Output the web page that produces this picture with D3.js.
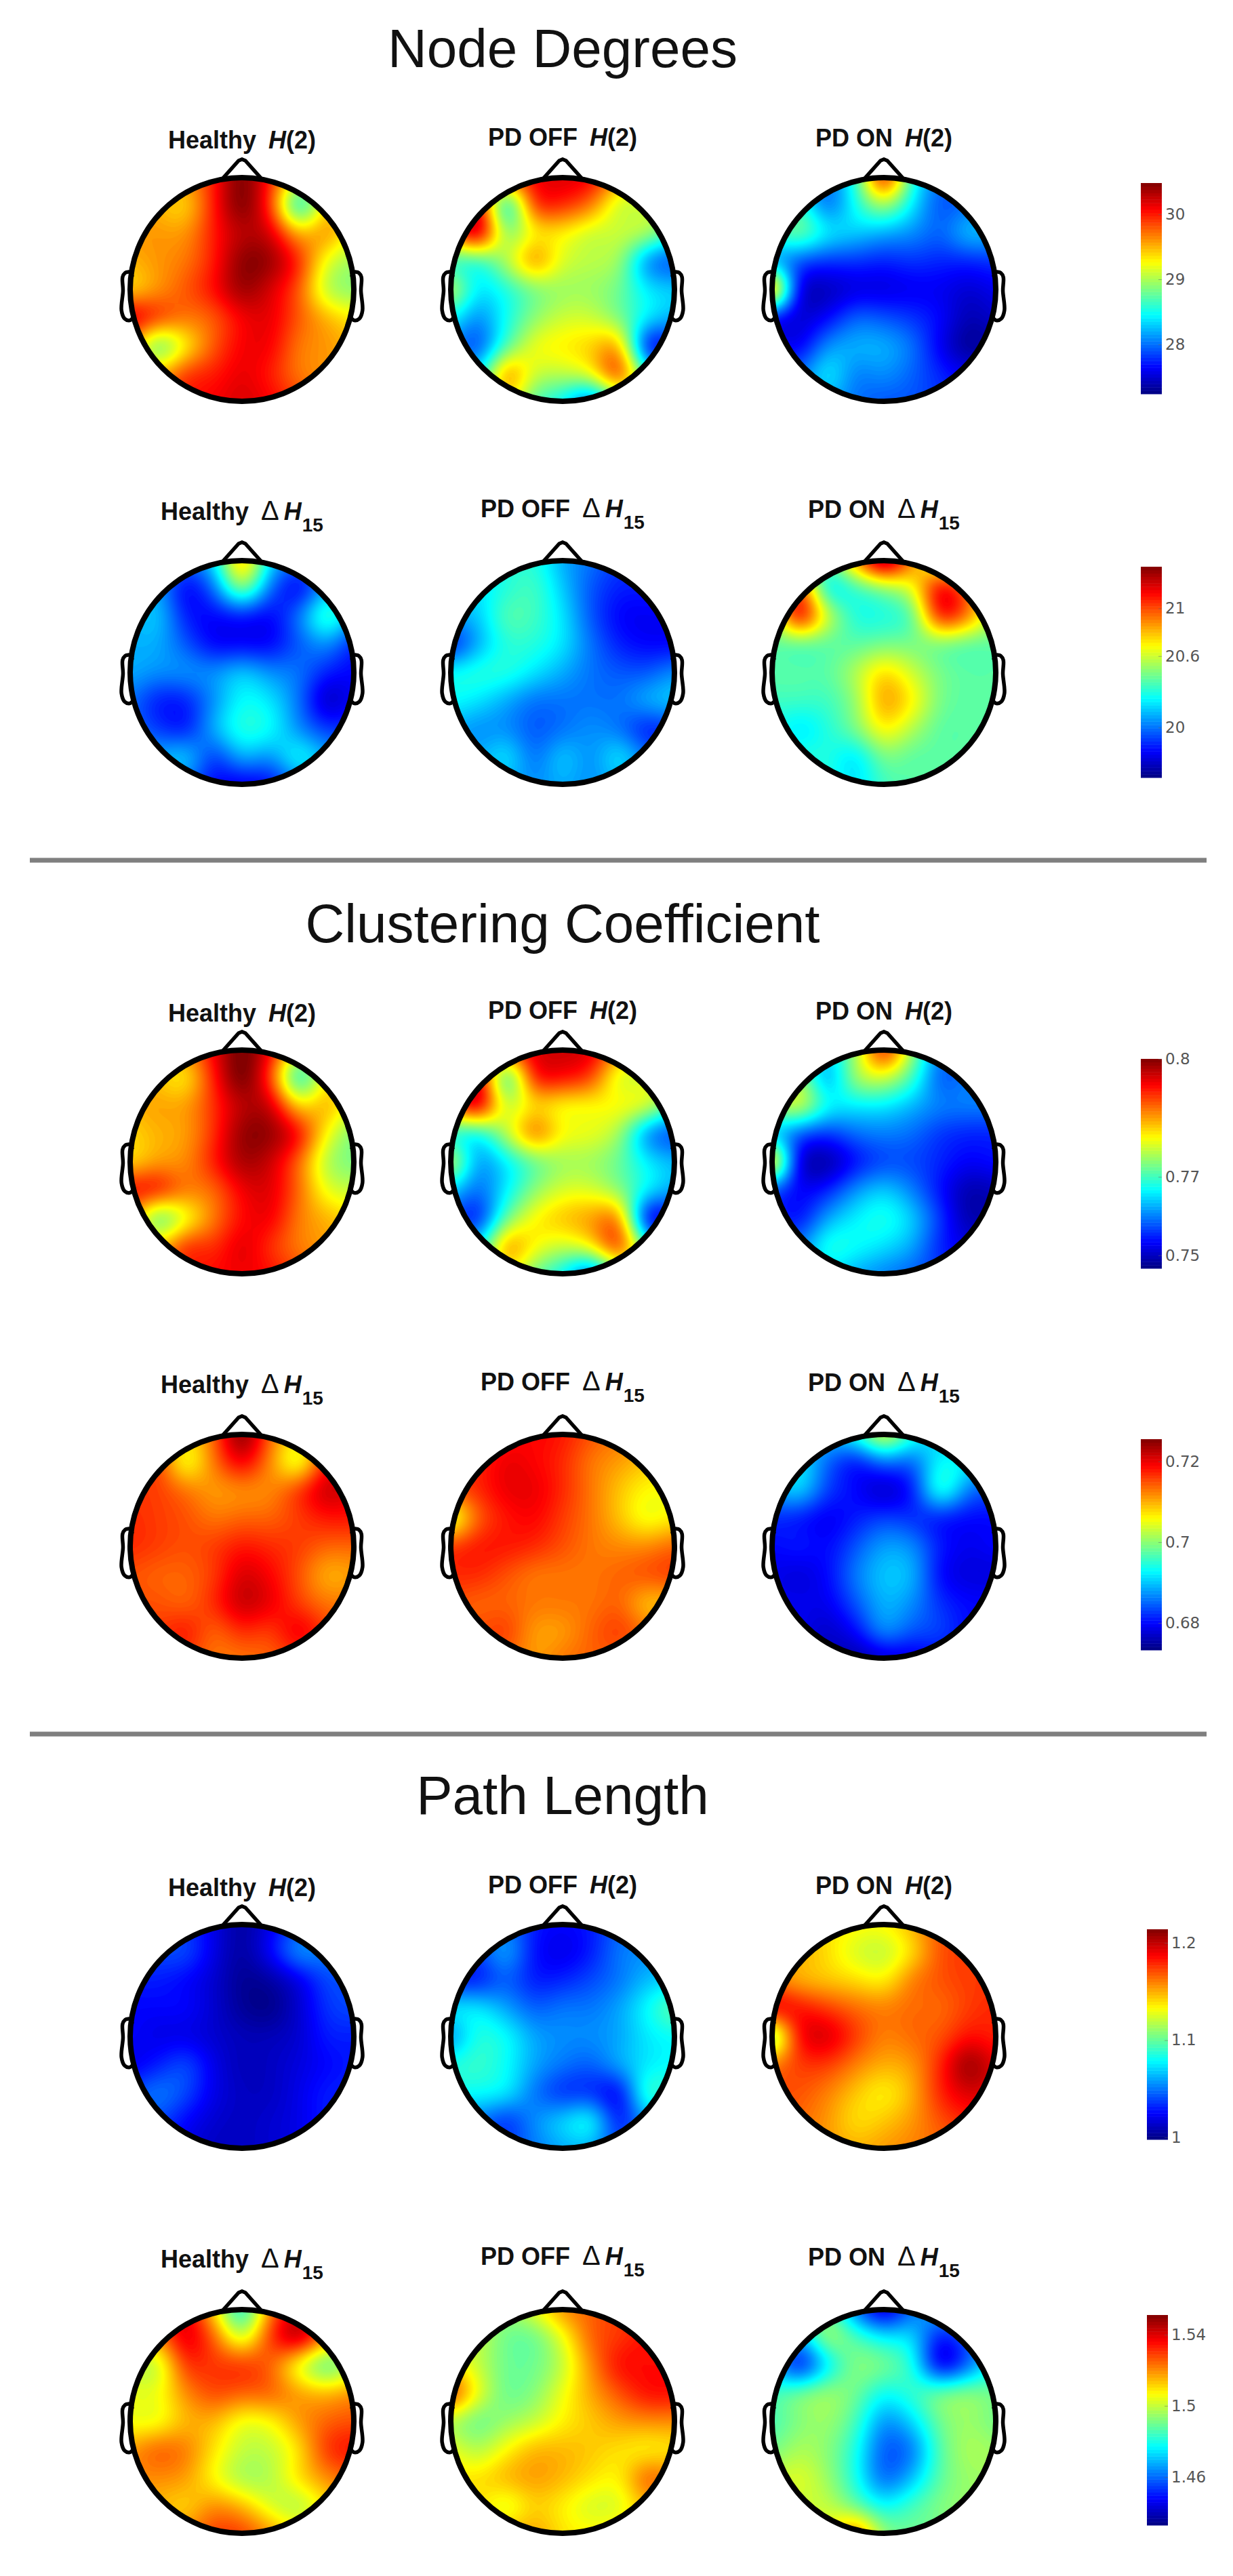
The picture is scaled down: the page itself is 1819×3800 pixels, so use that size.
<!DOCTYPE html>
<html>
<head>
<meta charset="utf-8">
<title>Node Degrees, Clustering Coefficient, Path Length</title>
<script src="https://cdn.jsdelivr.net/npm/d3@7"></script>
<style>
  body { margin: 0; background: #fff; }
  text { font-family: "Liberation Sans", Arial, sans-serif; }
</style>
</head>
<body>
<div id="chart"></div>
<script>
// section names, one title per block of two rows
var sectionTitles = ['Node Degrees', 'Clustering Coefficient', 'Path Length'];
var groupLabels = ['Healthy', 'PD OFF', 'PD ON'];

// colorbar ranges and ticks, one per row of heads
var barDomains = [[27.24, 30.48], [19.58, 21.35], [0.7467, 0.80], [0.6733, 0.7255], [0.998, 1.214], [1.433, 1.551]];
var barTicks = [[28, 29, 30], [20, 20.6, 21], [0.75, 0.77, 0.8], [0.68, 0.7, 0.72], [1, 1.1, 1.2], [1.46, 1.5, 1.54]];

// scalp values, 9x9 grid, nose at the top
var nodeH2Healthy = [
[29.6,29.6,29.6,30.0,30.5,30.0,29.3,29.3,29.3],
[29.6,29.5,29.4,30.0,30.5,29.9,28.5,29.4,29.4],
[29.6,29.6,29.6,30.0,30.3,30.2,29.5,29.6,29.2],
[29.5,29.6,29.7,30.0,30.45,30.4,29.95,29.2,28.95],
[29.4,29.6,29.8,30.05,30.4,30.2,29.8,29.05,28.9],
[30.2,29.9,29.7,29.8,30.1,30.15,29.8,29.5,29.3],
[29.6,28.8,29.3,29.8,30.1,30.1,29.7,29.6,29.5],
[29.6,29.5,29.9,30.0,30.15,30.0,29.7,29.6,29.5],
[29.8,29.8,30.0,30.1,30.2,30.1,29.9,29.7,29.6]];
var nodeH2Off = [
[29.5,29.5,29.8,30.1,30.2,30.1,29.6,29.2,29.1],
[30.0,30.1,28.5,29.9,29.95,29.7,29.1,29.1,29.0],
[29.7,30.3,28.9,29.3,29.3,29.1,29.1,29.0,28.6],
[28.6,28.6,29.0,29.6,29.15,29.05,28.95,28.1,27.9],
[29.1,28.4,28.55,28.85,28.95,28.95,28.8,28.4,28.3],
[28.5,28.1,28.5,28.9,29.1,29.1,28.85,28.4,28.2],
[28.1,27.9,28.7,29.2,29.3,29.4,29.5,27.7,27.8],
[28.3,28.4,29.6,29.1,29.05,29.2,29.85,28.6,28.0],
[28.5,28.7,29.3,28.7,28.4,27.9,28.7,29.0,28.5]];
var nodeH2On = [
[28,28,28,28.6,30.1,28.6,28,28,28],
[28.5,28.6,28.0,28.5,29.0,28.4,27.9,28,28],
[28.6,28.8,28.4,28.3,28.2,28.1,27.95,28.25,28.2],
[28.2,27.9,27.8,27.8,27.75,27.8,27.75,27.75,27.8],
[29.8,27.6,27.45,27.55,27.55,27.6,27.6,27.5,27.6],
[27.7,27.5,27.65,27.95,27.9,27.8,27.65,27.4,27.5],
[27.7,27.6,28.1,28.2,28.2,28.0,27.6,27.3,27.4],
[27.9,28.0,28.4,28.05,28.1,27.95,27.75,27.6,27.6],
[28,28,28.2,28,27.9,27.9,27.8,27.7,27.7]];
var nodeDeltaHealthy = [
[20.1,20.1,20,20.2,20.85,20.2,20,20.1,20.2],
[20.1,20.1,19.8,20.0,20.5,20.0,19.8,20.1,20.2],
[20.1,20.15,19.85,19.8,19.85,19.8,20.0,20.35,20.1],
[20.1,20.1,19.95,19.8,19.8,19.8,19.95,20.05,19.85],
[20.1,20.05,20.05,20.05,20.15,20.05,20.0,19.85,19.8],
[20.0,19.85,19.85,20.05,20.25,20.2,20.0,19.7,19.8],
[20.0,19.9,19.85,20.1,20.3,20.25,20.05,19.9,19.9],
[20.1,20.1,20.15,19.9,20.1,20.05,20.25,20.1,20],
[20.1,20.1,20,19.8,19.75,19.8,20,20.1,20]];
var nodeDeltaOff = [
[20.2,20.2,20.3,20.3,20.1,20,19.9,19.9,19.9],
[20.2,20.2,20.3,20.35,20.15,19.95,19.85,19.85,19.85],
[20.1,20.15,20.38,20.35,20.2,19.95,19.8,19.78,19.8],
[19.85,20.1,20.3,20.3,20.2,20.0,19.85,19.8,19.8],
[20.25,20.3,20.3,20.2,20.1,20.0,19.95,19.95,20.05],
[20.25,20.2,20.1,20.0,20.0,20.0,20.0,20.1,20.15],
[20.1,20.05,20.05,19.95,20.0,20.05,20.0,19.85,19.9],
[20.1,20.1,20.2,20.0,20.15,20.05,20.2,20,19.9],
[20.1,20.1,20.1,20.05,20.1,20.05,20.1,20,20]];
var nodeDeltaOn = [
[20.4,20.4,20.4,20.9,21.4,20.9,20.5,20.5,20.5],
[20.8,21,20.25,20.35,20.5,20.65,21.15,20.9,20.5],
[20.5,21.15,20.6,20.3,20.3,20.4,21.1,20.9,20.5],
[20.4,20.4,20.4,20.4,20.45,20.45,20.45,20.4,20.4],
[20.4,20.4,20.4,20.55,20.75,20.6,20.45,20.4,20.4],
[20.35,20.35,20.35,20.5,20.85,20.7,20.45,20.4,20.4],
[20.3,20.2,20.3,20.45,20.7,20.55,20.4,20.4,20.4],
[20.3,20.3,20.3,20.2,20.45,20.4,20.4,20.4,20.4],
[20.3,20.3,20.3,20.2,20.35,20.4,20.4,20.4,20.4]];

var clusterH2Healthy = [
[.786,.786,.786,.794,.801,.794,.78,.78,.78],
[.785,.783,.781,.792,.801,.790,.768,.781,.781],
[.784,.785,.785,.791,.797,.796,.782,.784,.778],
[.782,.784,.785,.791,.799,.799,.793,.78,.773],
[.782,.785,.786,.792,.798,.796,.788,.776,.773],
[.793,.792,.787,.788,.794,.795,.788,.779,.777],
[.786,.772,.779,.787,.793,.794,.787,.784,.782],
[.786,.783,.791,.791,.795,.791,.787,.785,.784],
[.787,.787,.791,.793,.794,.793,.79,.787,.786]];
var clusterH2Off = [
[.785,.785,.79,.795,.796,.795,.786,.78,.78],
[.79,.795,.770,.792,.793,.79,.778,.778,.778],
[.788,.796,.777,.782,.78,.78,.78,.778,.77],
[.768,.767,.776,.787,.78,.779,.775,.761,.757],
[.778,.762,.766,.772,.775,.775,.772,.766,.763],
[.765,.759,.766,.774,.778,.778,.774,.766,.762],
[.758,.755,.772,.78,.783,.785,.786,.753,.755],
[.765,.766,.785,.78,.777,.78,.79,.77,.758],
[.768,.77,.78,.772,.766,.757,.772,.775,.77]];
var clusterH2On = [
[.765,.765,.765,.775,.793,.775,.76,.76,.76],
[.772,.775,.762,.775,.778,.77,.758,.76,.76],
[.775,.778,.767,.766,.766,.763,.76,.76,.76],
[.764,.758,.756,.759,.76,.759,.756,.755,.755],
[.785,.752,.749,.754,.757,.757,.755,.753,.754],
[.758,.753,.755,.761,.764,.76,.754,.749,.75],
[.756,.754,.762,.766,.768,.764,.756,.749,.75],
[.758,.76,.768,.767,.765,.762,.755,.752,.752],
[.76,.76,.765,.762,.76,.758,.756,.754,.754]];
var clusterDeltaHealthy = [
[.716,.716,.708,.714,.726,.714,.708,.716,.718],
[.716,.716,.705,.713,.72,.712,.704,.718,.72],
[.716,.716,.713,.711,.712,.712,.716,.722,.72],
[.717,.716,.715,.713,.714,.714,.716,.718,.718],
[.717,.716,.715,.716,.718,.717,.716,.714,.714],
[.715,.714,.714,.716,.721,.719,.715,.710,.711],
[.715,.715,.714,.717,.722,.72,.716,.713,.713],
[.716,.716,.718,.714,.717,.716,.72,.716,.714],
[.716,.716,.716,.713,.713,.714,.716,.716,.714]];
var clusterDeltaOff = [
[.716,.716,.718,.719,.718,.715,.713,.712,.712],
[.716,.717,.72,.719,.717,.713,.711,.709,.709],
[.715,.717,.72,.72,.717,.713,.709,.706,.706],
[.703,.714,.718,.719,.716,.713,.709,.705,.707],
[.716,.718,.718,.717,.715,.713,.712,.712,.714],
[.717,.717,.715,.713,.713,.713,.714,.715,.716],
[.715,.714,.714,.713,.713,.713,.714,.709,.71],
[.715,.715,.716,.711,.711,.714,.716,.713,.712],
[.714,.714,.714,.711,.713,.714,.714,.713,.712]];
var clusterDeltaOn = [
[.688,.688,.69,.695,.706,.695,.69,.688,.688],
[.69,.692,.685,.681,.686,.685,.693,.692,.688],
[.688,.691,.683,.68,.677,.681,.695,.686,.684],
[.682,.681,.679,.681,.683,.682,.681,.68,.68],
[.68,.681,.68,.684,.688,.687,.681,.679,.68],
[.679,.678,.68,.686,.69,.689,.68,.678,.678],
[.679,.679,.679,.684,.689,.687,.682,.68,.68],
[.679,.679,.677,.68,.687,.684,.683,.68,.68],
[.678,.678,.677,.675,.677,.678,.68,.68,.68]];

var pathH2Healthy = [
[1.04,1.04,1.035,1.02,1.005,1.02,1.04,1.05,1.05],
[1.04,1.04,1.04,1.02,1.005,1.025,1.055,1.05,1.05],
[1.03,1.03,1.025,1.015,1.002,1.005,1.02,1.04,1.04],
[1.025,1.025,1.025,1.015,1.003,1.0,1.015,1.035,1.04],
[1.025,1.02,1.02,1.015,1.01,1.01,1.015,1.03,1.03],
[1.02,1.03,1.04,1.02,1.01,1.012,1.018,1.025,1.03],
[1.04,1.05,1.04,1.02,1.012,1.012,1.02,1.03,1.03],
[1.04,1.04,1.025,1.015,1.012,1.015,1.02,1.03,1.03],
[1.03,1.03,1.02,1.012,1.012,1.015,1.02,1.03,1.03]];
var pathH2Off = [
[1.04,1.04,1.05,1.03,1.025,1.03,1.045,1.05,1.05],
[1.04,1.04,1.06,1.028,1.02,1.03,1.05,1.055,1.055],
[1.03,1.03,1.045,1.03,1.032,1.04,1.05,1.065,1.07],
[1.075,1.075,1.06,1.045,1.05,1.05,1.06,1.08,1.10],
[1.055,1.085,1.08,1.06,1.055,1.055,1.06,1.075,1.08],
[1.085,1.09,1.08,1.06,1.05,1.045,1.06,1.075,1.08],
[1.08,1.08,1.075,1.05,1.035,1.035,1.025,1.09,1.08],
[1.05,1.05,1.035,1.055,1.07,1.08,1.03,1.06,1.07],
[1.04,1.04,1.04,1.05,1.06,1.06,1.04,1.05,1.06]];
var pathH2On = [
[1.14,1.14,1.14,1.135,1.135,1.15,1.17,1.17,1.17],
[1.15,1.15,1.14,1.125,1.12,1.14,1.17,1.175,1.175],
[1.16,1.15,1.145,1.14,1.135,1.16,1.17,1.175,1.175],
[1.19,1.185,1.175,1.165,1.16,1.165,1.165,1.175,1.18],
[1.10,1.185,1.195,1.175,1.16,1.165,1.17,1.185,1.18],
[1.16,1.175,1.175,1.16,1.15,1.155,1.18,1.21,1.19],
[1.17,1.17,1.16,1.145,1.135,1.15,1.18,1.195,1.19],
[1.17,1.165,1.155,1.14,1.145,1.155,1.17,1.18,1.18],
[1.16,1.16,1.155,1.15,1.155,1.16,1.165,1.17,1.17]];
var pathDeltaHealthy = [
[1.52,1.53,1.54,1.51,1.478,1.52,1.54,1.52,1.51],
[1.51,1.52,1.54,1.525,1.50,1.53,1.545,1.52,1.51],
[1.50,1.50,1.53,1.53,1.53,1.525,1.505,1.488,1.50],
[1.505,1.505,1.52,1.528,1.525,1.525,1.518,1.515,1.52],
[1.505,1.505,1.515,1.515,1.505,1.507,1.518,1.525,1.527],
[1.518,1.525,1.522,1.51,1.50,1.50,1.51,1.53,1.535],
[1.52,1.52,1.518,1.507,1.497,1.498,1.51,1.52,1.525],
[1.515,1.515,1.512,1.52,1.515,1.503,1.498,1.51,1.52],
[1.52,1.52,1.52,1.53,1.53,1.52,1.51,1.51,1.52]];
var pathDeltaOff = [
[1.50,1.50,1.495,1.505,1.52,1.525,1.53,1.53,1.53],
[1.50,1.50,1.49,1.49,1.505,1.525,1.53,1.535,1.535],
[1.51,1.50,1.49,1.49,1.50,1.52,1.535,1.535,1.535],
[1.53,1.505,1.49,1.493,1.505,1.517,1.527,1.535,1.535],
[1.498,1.49,1.495,1.50,1.508,1.513,1.518,1.52,1.52],
[1.505,1.498,1.507,1.515,1.515,1.513,1.51,1.508,1.51],
[1.51,1.51,1.515,1.518,1.515,1.51,1.508,1.525,1.52],
[1.51,1.51,1.503,1.512,1.508,1.502,1.503,1.515,1.515],
[1.51,1.51,1.515,1.518,1.51,1.508,1.51,1.515,1.515]];
var pathDeltaOn = [
[1.49,1.49,1.49,1.46,1.44,1.46,1.47,1.47,1.47],
[1.48,1.47,1.495,1.485,1.475,1.473,1.45,1.46,1.47],
[1.47,1.45,1.475,1.492,1.49,1.48,1.445,1.46,1.48],
[1.485,1.49,1.495,1.49,1.478,1.483,1.49,1.493,1.49],
[1.485,1.492,1.495,1.485,1.465,1.473,1.49,1.495,1.49],
[1.49,1.497,1.493,1.48,1.458,1.462,1.487,1.497,1.495],
[1.50,1.503,1.495,1.48,1.46,1.47,1.488,1.495,1.495],
[1.50,1.50,1.50,1.49,1.478,1.485,1.492,1.495,1.495],
[1.50,1.50,1.505,1.525,1.495,1.49,1.49,1.495,1.495]];

var rowMaps = [
  [nodeH2Healthy, nodeH2Off, nodeH2On],
  [nodeDeltaHealthy, nodeDeltaOff, nodeDeltaOn],
  [clusterH2Healthy, clusterH2Off, clusterH2On],
  [clusterDeltaHealthy, clusterDeltaOff, clusterDeltaOn],
  [pathH2Healthy, pathH2Off, pathH2On],
  [pathDeltaHealthy, pathDeltaOff, pathDeltaOn]
];

// layout
var width = 1819, height = 3800;
var colX = [357, 830, 1304];
var rowY = [427, 992, 1714, 2281, 3004, 3572];
var labelY = [219, 767, 1507, 2055, 2797, 3345];
var labelShift = [0, -4, -3];
var sectionY = [99, 1390, 2676];
var ruleY = [1269, 2558];
var barX = [1683, 1683, 1683, 1683, 1692, 1692];
var barTop = [270, 836, 1562, 2123, 2846, 3415];
var barBottom = [581, 1147, 1871, 2434, 3156, 3725];
var headR = 165;
var barW = 31;
var barLevels = 64;
var levels = 128;
var upsample = 8;

var svg = d3.select('#chart').append('svg')
  .attr('width', width).attr('height', height)
  .style('display', 'block');

svg.append('defs').append('clipPath').attr('id', 'scalp')
  .append('circle').attr('r', headR);

// matlab jet
var jet = d3.scaleLinear()
  .domain([0, 0.125, 0.375, 0.625, 0.875, 1])
  .range(['#000080', '#0000ff', '#00ffff', '#ffff00', '#ff0000', '#800000'])
  .interpolate(d3.interpolateRgb);

function catmull(a, b, c, d, t) {
  return 0.5 * (2 * b + (c - a) * t + (2 * a - 5 * b + 4 * c - d) * t * t + (3 * b - a - 3 * c + d) * t * t * t);
}

// smooth the 9x9 readings so the contours look like the original spline
function smoothGrid(rows) {
  var n = rows.length, size = (n - 1) * upsample + 1, out = new Array(size * size);
  function at(r, c) {
    return rows[Math.max(0, Math.min(n - 1, r))][Math.max(0, Math.min(n - 1, c))];
  }
  for (var j = 0; j < size; j++) {
    var r = Math.min(n - 2, Math.floor(j / upsample)), tr = j / upsample - r;
    for (var i = 0; i < size; i++) {
      var c = Math.min(n - 2, Math.floor(i / upsample)), tc = i / upsample - c;
      var col = [];
      for (var k = -1; k < 3; k++) {
        col.push(catmull(at(r + k, c - 1), at(r + k, c), at(r + k, c + 1), at(r + k, c + 2), tc));
      }
      out[j * size + i] = catmull(col[0], col[1], col[2], col[3], tr);
    }
  }
  d3.blur2({ data: out, width: size, height: size }, 2);
  return { size: size, values: out };
}

function drawHead(g, rows, domain) {
  var lo = domain[0], hi = domain[1];
  var grid = smoothGrid(rows);
  var values = Array.from(grid.values, function(v) { return Math.max(lo + 1e-6 * (hi - lo), Math.min(hi, v)); });
  var thresholds = d3.range(levels).map(function(i) { return lo + i * (hi - lo) / levels; });
  var pos = d3.scaleLinear().domain([0.5, grid.size - 0.5]).range([-headR - 2, headR + 2]);
  var path = d3.geoPath(d3.geoTransform({
    point: function(x, y) { this.stream.point(pos(x), pos(y)); }
  }));
  var contours = d3.contours().size([grid.size, grid.size]).thresholds(thresholds)(values);

  g.append('g').attr('clip-path', 'url(#scalp)')
    .selectAll('path').data(contours).enter().append('path')
    .attr('d', path)
    .attr('fill', function(d, i) { return jet((i + 0.5) / levels); });

  // ears and nose, same proportions as the eeglab outline
  var line = d3.line().curve(d3.curveCatmullRom.alpha(0.5));
  var earX = [.497, .510, .518, .5299, .5419, .54, .547, .532, .510, .489];
  var earY = [.0555, .0775, .0783, .0746, .0555, -.0055, -.0932, -.1313, -.1384, -.1199];
  var ear = earX.map(function(x, i) { return [x * 2 * headR * 0.985, -earY[i] * 2 * headR]; });
  [1, -1].forEach(function(side) {
    g.append('path')
      .attr('d', line(ear.map(function(p) { return [p[0] * side, p[1]]; })))
      .attr('fill', 'none').attr('stroke', '#000').attr('stroke-width', 5.5);
  });
  g.append('path')
    .attr('d', d3.line()([[-30, -headR + 3], [-5, -190], [0, -192], [5, -190], [30, -headR + 3]]))
    .attr('fill', 'none').attr('stroke', '#000').attr('stroke-width', 5.5);
  g.append('circle').attr('r', headR)
    .attr('fill', 'none').attr('stroke', '#000').attr('stroke-width', 8);
}

function drawLabel(x, y, group, rowIndex) {
  var t = svg.append('text').attr('x', x).attr('y', y)
    .attr('text-anchor', 'middle')
    .attr('font-size', 36).attr('font-weight', 'bold').attr('fill', '#111');
  t.append('tspan').text(group);
  if (rowIndex % 2 === 0) {
    t.append('tspan').attr('dx', 18).attr('font-style', 'italic').text('H');
    t.append('tspan').text('(2)');
  } else {
    t.append('tspan').attr('dx', 18).attr('font-weight', 'normal').attr('font-size', 40).text('Δ');
    t.append('tspan').attr('dx', 7).attr('font-style', 'italic').text('H');
    t.append('tspan').attr('dx', 1).attr('dy', 17).attr('font-size', 28).text('15');
  }
}

function drawBar(i) {
  var domain = barDomains[i];
  var y = d3.scaleLinear().domain(domain).range([barBottom[i], barTop[i]]);
  var g = svg.append('g');
  var steps = d3.range(barLevels);
  g.selectAll('rect').data(steps).enter().append('rect')
    .attr('x', barX[i])
    .attr('width', barW)
    .attr('y', function(d) { return y(domain[0] + (d + 1) * (domain[1] - domain[0]) / barLevels); })
    .attr('height', (barBottom[i] - barTop[i]) / barLevels + 0.5)
    .attr('fill', function(d) { return jet((d + 0.5) / barLevels); });
  var axis = d3.axisRight(y).tickValues(barTicks[i])
    .tickSizeInner(-5).tickSizeOuter(0).tickPadding(5)
    .tickFormat(function(d) { return String(d); });
  var ag = svg.append('g').attr('transform', 'translate(' + (barX[i] + barW) + ',0)').call(axis);
  ag.select('.domain').remove();
  ag.selectAll('line').attr('stroke', '#666').attr('stroke-opacity', 0.5);
  ag.selectAll('text')
    .style('font-family', '"DejaVu Sans", sans-serif')
    .attr('font-size', 23).attr('fill', '#555');
}

svg.selectAll('.section').data(sectionTitles).enter().append('text')
  .attr('class', 'section')
  .attr('x', 830)
  .attr('y', function(d, i) { return sectionY[i]; })
  .attr('text-anchor', 'middle')
  .attr('font-size', 80).attr('fill', '#111')
  .text(function(d) { return d; });

svg.selectAll('.rule').data(ruleY).enter().append('line')
  .attr('class', 'rule')
  .attr('x1', 44).attr('x2', 1780)
  .attr('y1', function(d) { return d; }).attr('y2', function(d) { return d; })
  .attr('stroke', '#7f7f7f').attr('stroke-width', 7);

rowMaps.forEach(function(maps, r) {
  maps.forEach(function(rows, c) {
    var g = svg.append('g').attr('transform', 'translate(' + colX[c] + ',' + rowY[r] + ')');
    drawHead(g, rows, barDomains[r]);
    drawLabel(colX[c], labelY[r] + labelShift[c], groupLabels[c], r);
  });
  drawBar(r);
});
</script>
</body>
</html>
